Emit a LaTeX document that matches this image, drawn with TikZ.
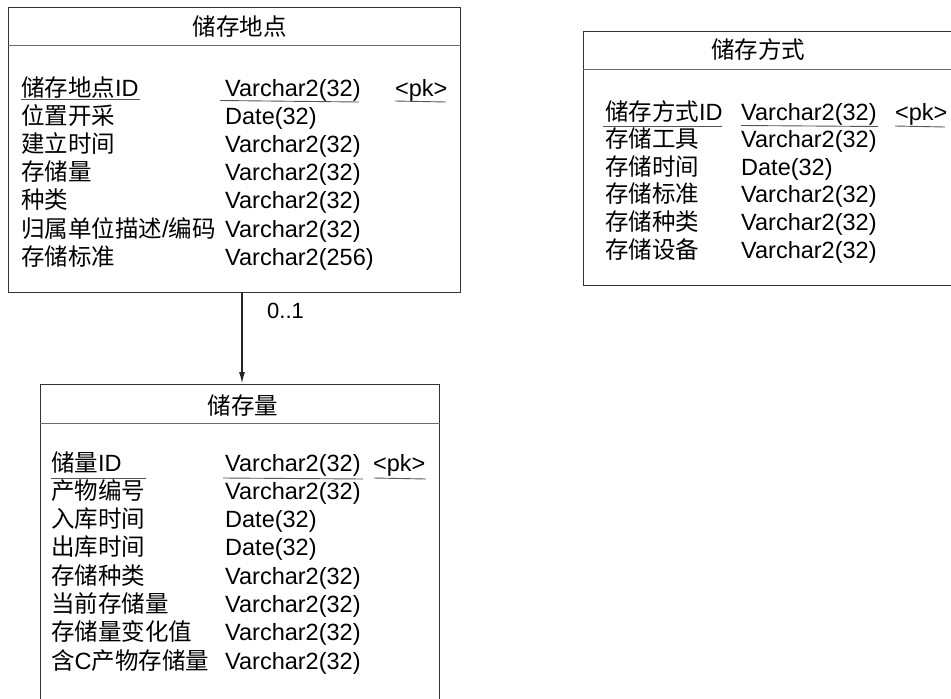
\documentclass[tikz,border=0pt]{standalone}
\usepackage{fontspec}
\setmainfont{Liberation Sans}
\newfontfamily\cjk{Noto Sans CJK SC}
\usetikzlibrary{arrows.meta}
\newcommand\zh[1]{{\cjk #1}}
\definecolor{bordercol}{HTML}{333333}
\definecolor{sepcol}{HTML}{6A6A6A}
\definecolor{ulcol}{HTML}{555555}
\tikzset{
  entity/.style={draw=bordercol, line width=1pt, anchor=north west, inner sep=0pt, minimum width=#1},
  txt/.style={anchor=base west, inner sep=0pt, font=\fontsize{23.5}{28}\selectfont, text=black},
  ttl/.style={anchor=base, inner sep=0pt, font=\fontsize{23.5}{28}\selectfont, text=black},
  sepline/.style={draw=sepcol, line width=1pt},
  uline/.style={draw=ulcol, line width=0.9pt},
}
\begin{document}
\begin{tikzpicture}[x=1pt,y=-1pt]
\useasboundingbox (0,0) rectangle (951,699);
\clip (0,0) rectangle (951,699);
% ---------- box 1 ----------
\node[entity=452pt, minimum height=285pt] (b1) at (8,7) {};
\draw[sepline] (b1.west |- 0,45) -- (b1.east |- 0,45);
\node[ttl] (t1) at (239.5,35) {\zh{储存地点}};
\node[txt] (r11a) at (21,96.5) {\zh{储存地点}ID};
\node[txt] (r11b) at (225,96.5) {Varchar2(32)};
\node[txt] (r11c) at (395,96.5) {<pk>};
\node[txt] (r12a) at (21,124.6) {\zh{位置开采}};
\node[txt] (r12b) at (225,124.6) {Date(32)};
\node[txt] (r13a) at (21,152.7) {\zh{建立时间}};
\node[txt] (r13b) at (225,152.7) {Varchar2(32)};
\node[txt] (r14a) at (21,180.8) {\zh{存储量}};
\node[txt] (r14b) at (225,180.8) {Varchar2(32)};
\node[txt] (r15a) at (21,208.9) {\zh{种类}};
\node[txt] (r15b) at (225,208.9) {Varchar2(32)};
\node[txt] (r16a) at (21,237) {\zh{归属单位描述}/\zh{编码}};
\node[txt] (r16b) at (225,237) {Varchar2(32)};
\node[txt] (r17a) at (21,265.1) {\zh{存储标准}};
\node[txt] (r17b) at (225,265.1) {Varchar2(256)};
\draw[uline] (21,99.5) -- (140,99.5);
\draw[uline] (220,100.5) -- (359,102);
\draw[uline] (395,101) -- (446,102);
% ---------- box 2 ----------
\node[entity=380pt, minimum height=254pt] (b2) at (583,31) {};
\draw[sepline] (b2.west |- 0,69) -- (b2.east |- 0,69);
\node[ttl] (t2) at (758,58) {\zh{储存方式}};
\node[txt] (r21a) at (605,120) {\zh{储存方式}ID};
\node[txt] (r21b) at (741,120) {Varchar2(32)};
\node[txt] (r21c) at (895,120) {<pk>};
\node[txt] (r22a) at (605,147.6) {\zh{存储工具}};
\node[txt] (r22b) at (741,147.6) {Varchar2(32)};
\node[txt] (r23a) at (605,175.2) {\zh{存储时间}};
\node[txt] (r23b) at (741,175.2) {Date(32)};
\node[txt] (r24a) at (605,202.8) {\zh{存储标准}};
\node[txt] (r24b) at (741,202.8) {Varchar2(32)};
\node[txt] (r25a) at (605,230.4) {\zh{存储种类}};
\node[txt] (r25b) at (741,230.4) {Varchar2(32)};
\node[txt] (r26a) at (605,258) {\zh{存储设备}};
\node[txt] (r26b) at (741,258) {Varchar2(32)};
\draw[uline] (603,126) -- (722,126);
\draw[uline] (741,125.5) -- (878,126.5);
\draw[uline] (895,126) -- (945,127);
% ---------- box 3 ----------
\node[entity=399pt, minimum height=330pt] (b3) at (40,384) {};
\draw[sepline] (b3.west |- 0,423) -- (b3.east |- 0,423);
\node[ttl] (t3) at (243,414) {\zh{储存量}};
\node[txt] (r31a) at (51,471) {\zh{储量}ID};
\node[txt] (r31b) at (225,471) {Varchar2(32)};
\node[txt] (r31c) at (373,471) {<pk>};
\node[txt] (r32a) at (51,499.3) {\zh{产物编号}};
\node[txt] (r32b) at (225,499.3) {Varchar2(32)};
\node[txt] (r33a) at (51,527.6) {\zh{入库时间}};
\node[txt] (r33b) at (225,527.6) {Date(32)};
\node[txt] (r34a) at (51,555.9) {\zh{出库时间}};
\node[txt] (r34b) at (225,555.9) {Date(32)};
\node[txt] (r35a) at (51,584.2) {\zh{存储种类}};
\node[txt] (r35b) at (225,584.2) {Varchar2(32)};
\node[txt] (r36a) at (51,612.5) {\zh{当前存储量}};
\node[txt] (r36b) at (225,612.5) {Varchar2(32)};
\node[txt] (r37a) at (51,640.8) {\zh{存储量变化值}};
\node[txt] (r37b) at (225,640.8) {Varchar2(32)};
\node[txt] (r38a) at (51,669.1) {\zh{含}C\zh{产物存储量}};
\node[txt] (r38b) at (225,669.1) {Varchar2(32)};
\draw[uline] (51,478) -- (146,478);
\draw[uline] (223,478) -- (363,479);
\draw[uline] (374,478) -- (426,479);
% ---------- connector ----------
\coordinate (ax) at (242,0);
\draw[line width=1.6pt, draw=black!85, -{Latex[length=12pt,width=6pt]}] (b1.south -| ax) -- (b3.north -| ax);
\node[anchor=base west, inner sep=0pt, font=\fontsize{22}{26}\selectfont] (lbl) at (267,318) {0..1};
\end{tikzpicture}
\end{document}
